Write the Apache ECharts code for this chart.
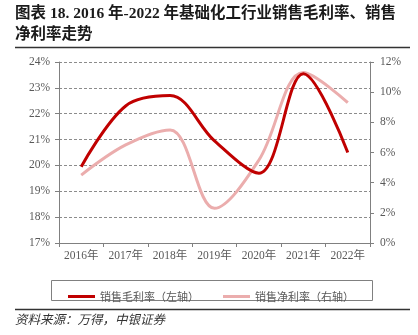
<!DOCTYPE html>
<html><head><meta charset="utf-8">
<script src="https://cdn.jsdelivr.net/npm/echarts@6/dist/echarts.min.js"></script>
<style>html,body{margin:0;padding:0;background:#fff}#c{width:418px;height:335px}</style>
</head><body><div id="c"></div>
<script>
const categories = ['2016年','2017年','2018年','2019年','2020年','2021年','2022年'];
const grossMargin = [19.95, 22.3, 22.7, 20.95, 19.7, 23.55, 20.5];
const netMargin = [4.5, 6.5, 7.5, 2.3, 5.5, 11.3, 9.3];
const seriesNames = ['销售毛利率（左轴）', '销售净利率（右轴）'];
const titleLine1 = '图表 18. 2016 年-2022 年基础化工行业销售毛利率、销售';
const titleLine2 = '净利率走势';
const sourceText = '资料来源：万得，中银证券';

const chart = echarts.init(document.getElementById('c'));
const labelFont = {color:'#595959', fontSize:11.5, fontFamily:'"Liberation Serif","Noto Sans CJK SC",serif'};
chart.setOption({
  animation:false,
  grid:{left:59, right:48, top:62, bottom:92},
  legend:{
    left:63, top:286, itemWidth:27, itemHeight:3, itemGap:24, icon:'rect',
    textStyle:{fontSize:11, color:'#595959', fontFamily:'"Noto Sans CJK SC",sans-serif'},
    data:seriesNames
  },
  xAxis:{
    type:'category', data:categories, boundaryGap:true,
    axisLine:{lineStyle:{color:'#808080', width:1}},
    axisTick:{show:true, length:4, lineStyle:{color:'#808080'}},
    axisLabel:Object.assign({margin:7, interval:0}, labelFont)
  },
  yAxis:[{
    type:'value', min:17, max:24, interval:1, position:'left',
    axisLine:{show:true, lineStyle:{color:'#808080'}},
    axisTick:{show:true, length:4, lineStyle:{color:'#808080'}},
    axisLabel:Object.assign({margin:9, formatter:'{value}%'}, labelFont),
    splitLine:{show:true, lineStyle:{color:'#8c8c8c', type:[3,2], width:1}}
  },{
    type:'value', min:0, max:12, interval:2, position:'right',
    axisLine:{show:true, lineStyle:{color:'#808080'}},
    axisTick:{show:true, length:4, lineStyle:{color:'#808080'}},
    axisLabel:Object.assign({margin:10, formatter:'{value}%'}, labelFont),
    splitLine:{show:false}
  }],
  series:[{
    name:seriesNames[0], type:'line', yAxisIndex:0, data:grossMargin,
    smooth:0.35, showSymbol:false, color:'#C00000',
    lineStyle:{width:3, color:'#C00000'}, z:3
  },{
    name:seriesNames[1], type:'line', yAxisIndex:1, data:netMargin,
    smooth:0.35, showSymbol:false, color:'#EBADAD',
    lineStyle:{width:3, color:'#EBADAD'}, z:2
  }],
  graphic:[
    {type:'text', left:15, top:6, style:{text:titleLine1, font:'bold 15.5px "Liberation Serif","Noto Sans CJK SC",serif', fill:'#1a1a1a'}},
    {type:'text', left:15, top:27, style:{text:titleLine2, font:'bold 15.5px "Liberation Serif","Noto Sans CJK SC",serif', fill:'#1a1a1a'}},
    {type:'line', shape:{x1:15, y1:47.5, x2:410, y2:47.5}, style:{stroke:'#333', lineWidth:1.5}},
    {type:'rect', shape:{x:51.5, y:280.5, width:321, height:20}, style:{fill:'none', stroke:'#808080', lineWidth:1}},
    {type:'line', shape:{x1:15, y1:309.5, x2:410, y2:309.5}, style:{stroke:'#333', lineWidth:1.5}},
    {type:'text', left:15, top:313, style:{text:sourceText, font:'italic 12.5px "Noto Sans CJK SC",sans-serif', fill:'#333'}}
  ]
});
</script></body></html>
